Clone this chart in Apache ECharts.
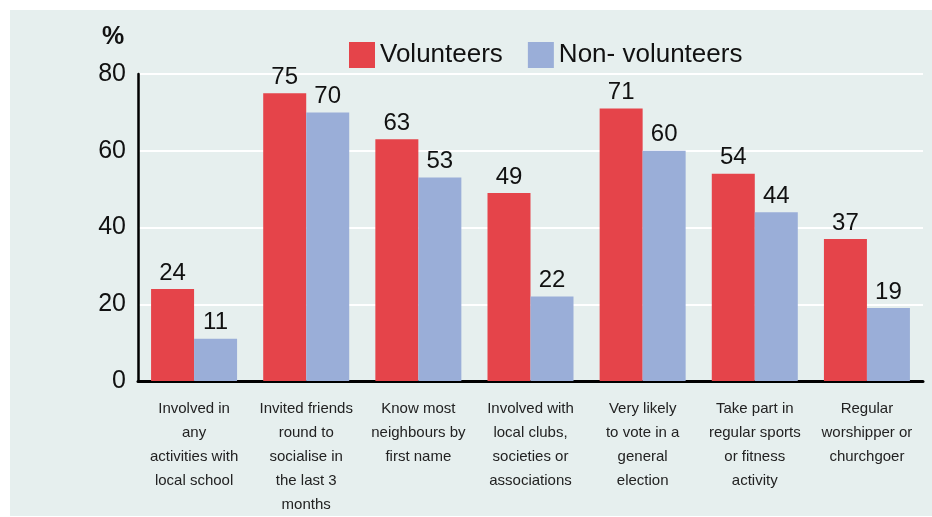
<!DOCTYPE html>
<html>
<head>
<meta charset="utf-8">
<script src="https://cdn.jsdelivr.net/npm/echarts@6/dist/echarts.min.js"></script>
<style>
html,body{margin:0;padding:0;background:#fff;}
#c{width:932px;height:517px;}
</style>
</head>
<body>
<div id="c"></div>
<script>
const categories = [
  "Involved in\nany\nactivities with\nlocal school",
  "Invited friends\nround to\nsocialise in\nthe last 3\nmonths",
  "Know most\nneighbours by\nfirst name",
  "Involved with\nlocal clubs,\nsocieties or\nassociations",
  "Very likely\nto vote in a\ngeneral\nelection",
  "Take part in\nregular sports\nor fitness\nactivity",
  "Regular\nworshipper or\nchurchgoer"
];
const volunteers = [24, 75, 63, 49, 71, 54, 37];
const nonVolunteers = [11, 70, 53, 22, 60, 44, 19];
const seriesNames = ["Volunteers", "Non- volunteers"];
const yTicks = [0, 20, 40, 60, 80];

const chart = echarts.init(document.getElementById('c'));
const FONT = "'Liberation Sans', Arial, Helvetica, sans-serif";
const labelStyle = {show: true, position: 'top', distance: 4, fontSize: 24, color: '#111', fontFamily: FONT};
chart.setOption({
  backgroundColor: '#ffffff',
  animation: false,
  graphic: [
    {type: 'rect', shape: {x: 10, y: 10, width: 922, height: 506}, style: {fill: '#e6efee'}, z: -10},
    {type: 'text', left: 102, top: 25, style: {text: '%', font: "bold 25px 'Liberation Sans', Arial, sans-serif", fill: '#111'}}
  ],
  legend: {
    left: 344, top: 37, itemWidth: 26, itemHeight: 26, itemGap: 25,
    icon: 'rect',
    textStyle: {fontSize: 26, color: '#111', fontFamily: FONT},
    data: seriesNames
  },
  grid: {left: 138, right: 9, top: 74, bottom: 133},
  xAxis: {
    type: 'category', data: categories,
    axisLine: {lineStyle: {color: '#000', width: 3}},
    axisTick: {show: false},
    axisLabel: {interval: 0, fontSize: 15, lineHeight: 24, color: '#222', margin: 16, fontFamily: FONT, verticalAlign: 'top'}
  },
  yAxis: {
    type: 'value', min: yTicks[0], max: yTicks[yTicks.length - 1], interval: 20,
    axisLine: {show: true, lineStyle: {color: '#000', width: 2.5}},
    axisTick: {show: false},
    splitLine: {show: true, lineStyle: {color: '#ffffff', width: 2}},
    axisLabel: {fontSize: 25, color: '#111', margin: 12, fontFamily: FONT}
  },
  series: [
    {name: seriesNames[0], type: 'bar', data: volunteers, barWidth: 43, barGap: '0%',
     itemStyle: {color: '#e5444a'}, label: labelStyle},
    {name: seriesNames[1], type: 'bar', data: nonVolunteers, barWidth: 43,
     itemStyle: {color: '#9aaed8'}, label: labelStyle}
  ]
});
</script>
</body>
</html>
